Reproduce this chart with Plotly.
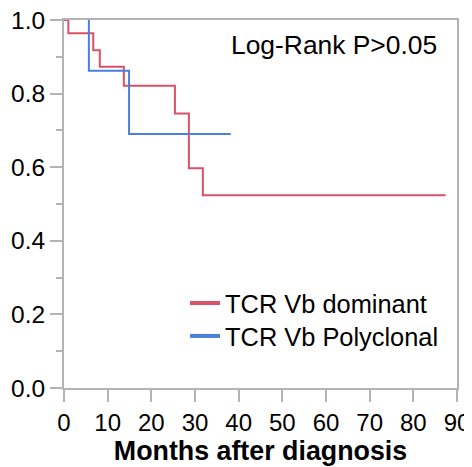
import plotly.graph_objects as go

# Kaplan-Meier step data (months, survival)
red_t = [0, 1.0, 6.7, 8.2, 13.7, 25.4, 28.6, 31.8, 87.4]
red_s = [1.0, 0.964, 0.918, 0.873, 0.821, 0.746, 0.597, 0.524, 0.524]
blue_t = [5.7, 5.7, 14.9, 38.2]
blue_s = [1.0, 0.862, 0.690, 0.690]

red_name = "TCR Vb dominant"
blue_name = "TCR Vb Polyclonal"
red_color = "#d95266"
blue_color = "#4a7fdd"

x_ticks = [0, 10, 20, 30, 40, 50, 60, 70, 80, 90]
y_ticks = [0.0, 0.2, 0.4, 0.6, 0.8, 1.0]

fig = go.Figure()
fig.add_trace(go.Scatter(x=red_t, y=red_s, mode="lines", line=dict(shape="hv", color=red_color, width=2),
                         showlegend=False, hoverinfo="skip"))
fig.add_trace(go.Scatter(x=blue_t, y=blue_s, mode="lines", line=dict(shape="hv", color=blue_color, width=2),
                         showlegend=False, hoverinfo="skip"))
# legend entries with thicker lines (one legend per row for tight spacing)
fig.add_trace(go.Scatter(x=[None], y=[None], mode="lines", line=dict(color=red_color, width=4),
                         name=red_name, legend="legend"))
fig.add_trace(go.Scatter(x=[None], y=[None], mode="lines", line=dict(color=blue_color, width=4),
                         name=blue_name, legend="legend2"))

font_family = "Liberation Sans, Arial, sans-serif"
legend_style = dict(xanchor="left", yanchor="top", bgcolor="rgba(0,0,0,0)",
                    font=dict(size=25.4), itemwidth=30)
# page body has an 8px default margin, so the figure is sized 8px smaller
fig.update_layout(
    width=464, height=459,
    margin=dict(l=56, r=15, t=12, b=79),
    paper_bgcolor="white", plot_bgcolor="white",
    font=dict(family=font_family, size=25, color="black"),
    legend=dict(x=0.308, y=0.2935, **legend_style),
    legend2=dict(x=0.308, y=0.204, **legend_style),
    annotations=[dict(text="Log-Rank P>0.05", x=0.953, y=0.932, xref="paper", yref="paper",
                      xanchor="right", yanchor="middle", showarrow=False, font=dict(size=26.4))],
)
fig.update_xaxes(range=[0, 90], tickvals=x_ticks, ticktext=[str(v) for v in x_ticks],
                 automargin=False, ticklabeloverflow="allow",
                 showgrid=False, zeroline=False, showline=True, linecolor="#b4b4b4", linewidth=2,
                 mirror=True, ticks="outside", ticklen=12, tickwidth=2, tickcolor="#b4b4b4",
                 title=dict(text="<b>Months after diagnosis</b>", font=dict(size=26.8), standoff=6),
                 tickfont=dict(size=24))
fig.update_yaxes(range=[0, 1.0], tickvals=y_ticks, ticktext=["%.1f" % v for v in y_ticks],
                 automargin=False, ticklabeloverflow="allow",
                 showgrid=False, zeroline=False, showline=True, linecolor="#b4b4b4", linewidth=2,
                 mirror=True, ticks="outside", ticklen=12, tickwidth=2, tickcolor="#b4b4b4",
                 minor=dict(tickvals=[0.1, 0.3, 0.5, 0.7, 0.9], ticks="outside", ticklen=6,
                            tickwidth=2, tickcolor="#b4b4b4"),
                 tickfont=dict(size=24.5))
fig.write_html("out.html")
